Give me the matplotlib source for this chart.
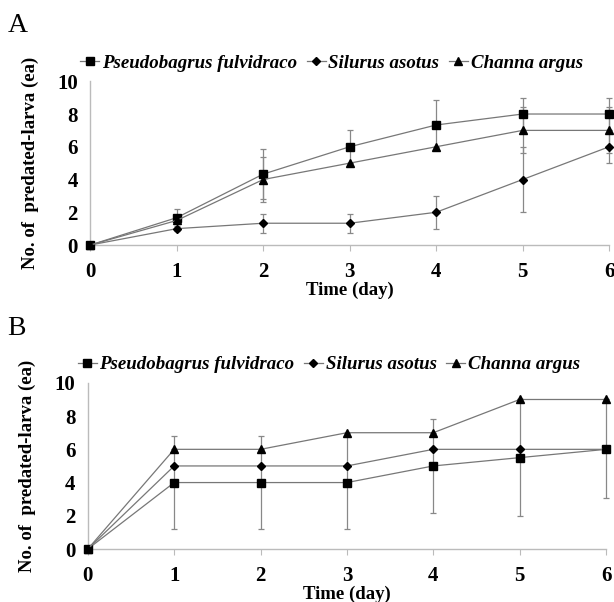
import matplotlib.pyplot as plt
import numpy as np

days = [0, 1, 2, 3, 4, 5, 6]
names = ['Pseudobagrus fulvidraco', 'Silurus asotus', 'Channa argus']
markers = ['s', 'D', '^']
msizes = [6, 4, 6]

# panel A
a_pf = [0, 1.67, 4.33, 6.0, 7.33, 8.0, 8.0]
a_pf_err = [0, 0.55, 1.53, 1.0, 1.53, 1.0, 1.0]
a_sa = [0, 1.0, 1.33, 1.33, 2.0, 4.0, 6.0]
a_sa_err = [0, 0.15, 0.58, 0.58, 1.0, 2.0, 1.0]
a_ca = [0, 1.5, 4.0, 5.0, 6.0, 7.0, 7.0]
a_ca_err = [0, 0.2, 1.4, 0, 0, 1.4, 1.4]

# panel B
b_pf = [0, 4.0, 4.0, 4.0, 5.0, 5.5, 6.0]
b_pf_err = [0, 2.8, 2.8, 2.8, 2.85, 3.5, 2.9]
b_sa = [0, 5.0, 5.0, 5.0, 6.0, 6.0, 6.0]
b_sa_err = [0, 0, 0, 0, 0, 0, 0]
b_ca = [0, 6.0, 6.0, 7.0, 7.0, 9.0, 9.0]
b_ca_err = [0, 0, 0, 0, 0, 0, 0]

plt.rcParams['font.family'] = 'Liberation Serif'
fig = plt.figure(figsize=(6.14, 6.02), dpi=100)

panels = [
    ('A', [0.147, 0.593, 0.845, 0.272], (a_pf, a_sa, a_ca), (a_pf_err, a_sa_err, a_ca_err), 0.978),
    ('B', [0.143, 0.088, 0.844, 0.276], (b_pf, b_sa, b_ca), (b_pf_err, b_sa_err, b_ca_err), 0.475),
]

for label, rect, series, errs, ly in panels:
    ax = fig.add_axes(rect)
    handles = []
    for vals, err, m, ms, nm in zip(series, errs, markers, msizes, names):
        ax.errorbar(days, vals, yerr=err, color='#888888', elinewidth=0.9,
                    capsize=2, capthick=0.9, linestyle='none', zorder=2, clip_on=False)
        h, = ax.plot(days, vals, color='#777777', linewidth=0.9, marker=m, markersize=ms,
                     markerfacecolor='black', markeredgecolor='black', zorder=3,
                     clip_on=False, label=nm)
        handles.append(h)
    ax.set_xlim(0, 6)
    ax.set_ylim(0, 10)
    ax.set_xticks(days)
    ax.set_yticks([0, 2, 4, 6, 8, 10])
    for s in ['top', 'right']:
        ax.spines[s].set_visible(False)
    for s in ['left', 'bottom']:
        ax.spines[s].set_color('#bbbbbb')
        ax.spines[s].set_linewidth(1.0)
    ax.tick_params(axis='x', colors='#bbbbbb', length=4, labelcolor='black',
                   labelsize=15, pad=8)
    ax.tick_params(axis='y', length=0, labelsize=15, pad=9)
    for t in ax.get_xticklabels() + ax.get_yticklabels():
        t.set_fontweight('bold')
    ax.set_xlabel('Time (day)', fontsize=13.5, fontweight='bold', labelpad=0)
    ax.set_ylabel('No. of  predated-larva (ea)', fontsize=13.5, fontweight='bold', labelpad=13)
    leg = ax.legend(handles=handles, loc='lower center', bbox_to_anchor=(0.465, 0.955),
                    ncol=3, frameon=False, handlelength=1.0, handletextpad=0.15,
                    columnspacing=0.5, prop={'style': 'italic', 'weight': 'bold', 'size': 13.6})
    fig.text(0.012, ly, label, fontsize=20, va='top', ha='left')

fig.savefig('out.png', dpi=100)
